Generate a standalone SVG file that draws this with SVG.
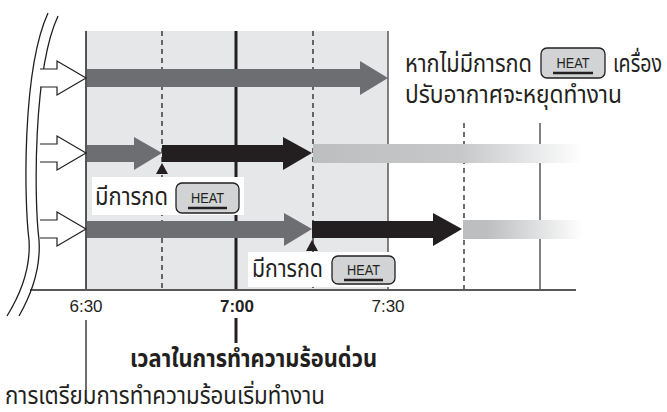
<svg xmlns="http://www.w3.org/2000/svg" width="667" height="412" viewBox="0 0 667 412">
<defs>
<style>
.th{font-family:"Noto Sans Thai","Noto Sans","DejaVu Sans",sans-serif;fill:#231f20;font-size:24px}
.ax{font-family:"Liberation Sans",Arial,sans-serif;fill:#231f20;font-size:17px;text-anchor:middle}
.heat{font-family:"Liberation Sans Narrow","Liberation Sans",sans-serif;font-size:14px;fill:#231f20;text-anchor:middle}
.btn{fill:#d1d3d4;stroke:#231f20;stroke-width:1.3}
.ul{stroke:#231f20;stroke-width:2.5}
.hol{fill:#fff;stroke:#231f20;stroke-width:1.2;stroke-linejoin:miter}
.dash{stroke:#231f20;stroke-width:1.3;stroke-dasharray:5,4;fill:none}
.dg{fill:#6d6e71}
.bk{fill:#231f20}
</style>
<linearGradient id="fade" x1="0" y1="0" x2="1" y2="0">
<stop offset="0" stop-color="#bcbec0"/>
<stop offset="0.55" stop-color="#c6c8ca"/>
<stop offset="1" stop-color="#ffffff"/>
</linearGradient>
<linearGradient id="fade2" x1="0" y1="0" x2="1" y2="0">
<stop offset="0" stop-color="#bcbec0"/>
<stop offset="0.2" stop-color="#bcbec0"/>
<stop offset="1" stop-color="#ffffff"/>
</linearGradient>
</defs>

<g id="panel">
<rect x="86" y="31" width="302" height="259" fill="#e6e7e8"/>
<line x1="86" y1="31" x2="86" y2="290" stroke="#231f20" stroke-width="1.5"/>
<line x1="388" y1="31" x2="388" y2="290" stroke="#58595b" stroke-width="1.5"/>
</g>

<g id="gridlines">
<line class="dash" x1="162" y1="31" x2="162" y2="290"/>
<line class="dash" x1="313" y1="31" x2="313" y2="290"/>
<line class="dash" x1="464" y1="123" x2="464" y2="290"/>
<line x1="540" y1="123" x2="540" y2="290" stroke="#58595b" stroke-width="1.5"/>
<line x1="236" y1="31" x2="236" y2="290" stroke="#231f20" stroke-width="3"/>
<line x1="30" y1="290" x2="576" y2="290" stroke="#58595b" stroke-width="2"/>
</g>

<g id="brace" fill="none" stroke="#231f20" stroke-width="1.3">
<path d="M48,13 C22,70 24,200 29,240 C31,270 20,295 7,316"/>
<path d="M58,16 C33,70 34,200 39,240 C41,270 31,295 19,316"/>
</g>

<g id="connectors">
<path class="hol" d="M40,69 H57 V61 L86,78 L57,95 V87 H40"/>
<path class="hol" d="M40,144 H57 V136 L86,153 L57,170 V162 H40"/>
<path class="hol" d="M40,220 H57 V212 L86,229 L57,246 V238 H40"/>

<path class="dg" d="M87,69 H360 V61 L388,78 L360,95 V87 H87 Z"/>

<path class="dg" d="M87,145 H134 V137 L162,153 L134,170 V162 H87 Z"/>
<path class="bk" d="M162,145 H283 V137 L312,153 L283,170 V162 H162 Z"/>
<rect x="313" y="144" width="270" height="19" fill="url(#fade)"/>
<path class="bk" d="M162,163 L168,174 H156 Z"/>

<path class="dg" d="M87,221 H284 V213 L312,229 L284,246 V238 H87 Z"/>
<path class="bk" d="M312,221 H433 V213 L462,229 L433,246 V238 H312 Z"/>
<rect x="463" y="220" width="120" height="19" fill="url(#fade2)"/>
<path class="bk" d="M312,240 L318,251 H306 Z"/>

<line x1="86" y1="320" x2="86" y2="390" stroke="#231f20" stroke-width="1.3"/>
<line x1="236" y1="318" x2="236" y2="343" stroke="#231f20" stroke-width="3"/>
</g>

<g id="label1">
<rect x="92" y="177" width="152" height="38" fill="#fff"/>
<text class="th" x="95" y="205" textLength="73" lengthAdjust="spacingAndGlyphs">มีการกด</text>
<rect class="btn" x="176" y="183" width="63" height="30" rx="6"/>
<text class="heat" x="207.5" y="203" textLength="33" lengthAdjust="spacingAndGlyphs">HEAT</text>
<line class="ul" x1="188" y1="208" x2="227" y2="208"/>
</g>

<g id="label2">
<rect x="248" y="252" width="150" height="35" fill="#fff"/>
<text class="th" x="252" y="277" textLength="71" lengthAdjust="spacingAndGlyphs">มีการกด</text>
<rect class="btn" x="332" y="256" width="63" height="28" rx="6"/>
<text class="heat" x="363.5" y="275" textLength="33" lengthAdjust="spacingAndGlyphs">HEAT</text>
<line class="ul" x1="344" y1="280" x2="383" y2="280"/>
</g>

<g id="note">
<text class="th" x="405" y="72" textLength="127" lengthAdjust="spacingAndGlyphs">หากไม่มีการกด</text>
<rect class="btn" x="541" y="48" width="64" height="30" rx="6"/>
<text class="heat" x="573" y="68" textLength="33" lengthAdjust="spacingAndGlyphs">HEAT</text>
<line class="ul" x1="553" y1="73" x2="593" y2="73"/>
<text class="th" x="613" y="72" textLength="49" lengthAdjust="spacingAndGlyphs">เครื่อง</text>
<text class="th" x="405" y="103" textLength="217" lengthAdjust="spacingAndGlyphs">ปรับอากาศจะหยุดทำงาน</text>
</g>

<g id="axis-labels">
<text class="ax" x="86" y="312">6:30</text>
<text class="ax" x="237" y="312" font-weight="bold">7:00</text>
<text class="ax" x="388" y="312">7:30</text>
<text class="th" x="130" y="367" font-weight="bold" textLength="247" lengthAdjust="spacingAndGlyphs">เวลาในการทำความร้อนด่วน</text>
<text class="th" x="5" y="404" font-size="23" textLength="320" lengthAdjust="spacingAndGlyphs">การเตรียมการทำความร้อนเริ่มทำงาน</text>
</g>
</svg>
